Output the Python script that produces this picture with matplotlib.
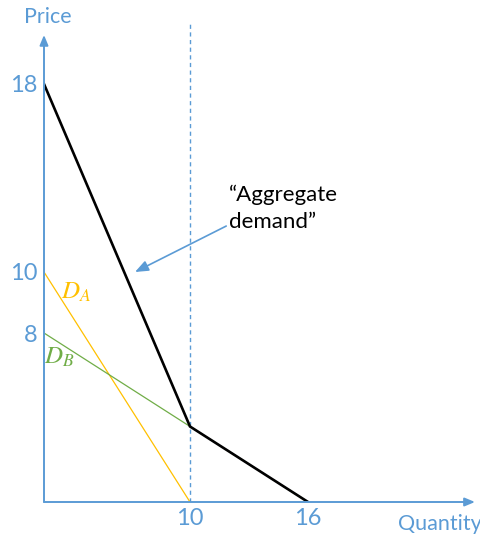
import numpy as np
import matplotlib
matplotlib.use("Agg")
import matplotlib.pyplot as plt

# ---- data ----
quantity_ticks = [10, 16]
quantity_labels = ["10", "16"]
price_ticks = [18, 10, 8]
price_labels = ["18", "10", "8"]
da_q = [0, 10]
da_p = [10, 0]
db_q = [0, 16]
db_p = [8, 0]
agg_q = [0, 10, 16]
agg_p = [18, 3, 0]
split_q = 10

BLUE = "#5B9BD5"
ORANGE = "#FFC000"
GREEN = "#70AD47"

plt.rcParams["font.family"] = ["Lato", "DejaVu Sans"]
plt.rcParams["mathtext.fontset"] = "stix"

# sketch (not-to-scale) axes: piecewise scale
x_knots = [0, 10, 16, 60]
x_pos = [0, 146, 264, 264 + 44 * 118 / 6]
y_knots = [0, 3, 8, 10, 18, 60]
y_pos = [0, 75.5, 169, 230, 418, 418 + 42 * 23.5]

def xf(v):
    return np.interp(v, x_knots, x_pos)
def xi(v):
    return np.interp(v, x_pos, x_knots)
def yf(v):
    return np.interp(v, y_knots, y_pos)
def yi(v):
    return np.interp(v, y_pos, y_knots)

W, H = 481, 538
fig = plt.figure(figsize=(W / 100, H / 100), dpi=100)
ax = fig.add_axes([44 / W, 36 / H, 434 / W, 482 / H])
ax.set_xscale("function", functions=(xf, xi))
ax.set_yscale("function", functions=(yf, yi))
ax.set_xlim(0, float(xi(434)))
ax.set_ylim(0, float(yi(482)))
ax.patch.set_alpha(0)
for s in ax.spines.values():
    s.set_visible(False)

ax.axvline(split_q, ymax=480 / 482, color=BLUE, lw=1, ls=(0, (3, 2.5)), zorder=1)
ax.plot(da_q, da_p, color=ORANGE, lw=0.9, zorder=2)
ax.plot(db_q, db_p, color=GREEN, lw=0.9, zorder=2)
ax.plot(agg_q, agg_p, color="black", lw=1.9, zorder=3, solid_joinstyle="miter")

# axes arrows
ax.annotate("", xy=(0.993, 0), xytext=(0, 0), xycoords="axes fraction",
            arrowprops=dict(arrowstyle="-|>,head_length=0.6,head_width=0.25", color=BLUE, lw=1.4,
                            shrinkA=0, shrinkB=0), zorder=4)
ax.annotate("", xy=(0, 0.969), xytext=(0, 0), xycoords="axes fraction",
            arrowprops=dict(arrowstyle="-|>,head_length=0.6,head_width=0.25", color=BLUE, lw=1.4,
                            shrinkA=0, shrinkB=0), zorder=4)

ax.set_xticks(quantity_ticks, quantity_labels)
ax.set_yticks(price_ticks, price_labels)
ax.minorticks_off()
ax.tick_params(axis="both", length=0, colors=BLUE, labelsize=17)
ax.tick_params(axis="x", pad=4)
ax.tick_params(axis="y", pad=5)

fig.text(48 / W, 1 - 17 / H, "Price", color=BLUE, fontsize=15.5, ha="center", va="center")
fig.text(482 / W, 1 - 524 / H, "Quantity", color=BLUE, fontsize=15.5, ha="right", va="center")

ax.annotate("$D_A$", xy=(da_q[0], da_p[0]), xytext=(32, -20), textcoords="offset pixels",
            color=ORANGE, fontsize=18, ha="center", va="center")
ax.annotate("$D_B$", xy=(db_q[0], db_p[0]), xytext=(15, -24), textcoords="offset pixels",
            color=GREEN, fontsize=18, ha="center", va="center")

ax.annotate("\u201cAggregate\ndemand\u201d", xy=(135, H - 272), xycoords="figure pixels",
            xytext=(229, H - 208), textcoords="figure pixels", ha="left", va="center",
            fontsize=16, color="black", linespacing=1.45,
            arrowprops=dict(arrowstyle="-|>,head_length=0.5,head_width=0.2", color=BLUE, lw=1.2,
                            shrinkA=0, shrinkB=0, relpos=(0, 0.15)))

fig.savefig("out.png", dpi=100)
